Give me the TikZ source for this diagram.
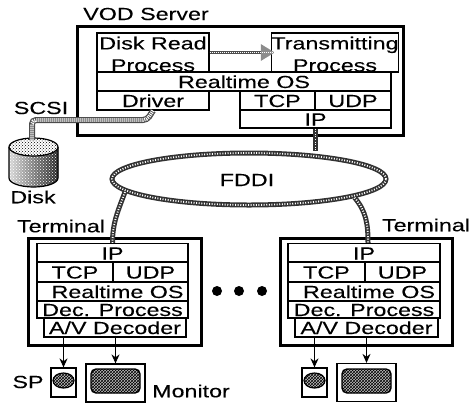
\documentclass[tikz,border=0pt]{standalone}
\usepackage{fontspec}
\setmainfont[FakeStretch=1.33,FakeBold=0.2]{Liberation Sans}
\usetikzlibrary{arrows.meta,patterns,shapes.geometric}
\tikzset{
  layerbox/.style={shape=rectangle,draw,fill=white,line width=1.2pt,inner sep=0pt,text height=13pt,text depth=0pt},
  procbox/.style={shape=rectangle,draw,fill=white,line width=1.2pt,inner sep=0pt,align=center},
  hostbox/.style={shape=rectangle,draw,line width=3pt,inner sep=0pt},
  plainlabel/.style={inner sep=0pt},
  netline/.style={draw=black!80,line width=5pt,postaction={draw=white,line width=1.8pt,dash pattern=on 1pt off 1.6pt,-}},
  scsiline/.style={draw=black!70,line width=6pt,rounded corners=4pt,postaction={draw=white,line width=3.6pt,dash pattern=on 1pt off 1pt}},
  dataline/.style={draw=black!70,line width=3pt,postaction={draw=white,line width=1.4pt,dash pattern=on 1pt off 1pt,-}},
  sigarrow/.style={-{Stealth[length=9pt,width=8pt]},line width=1pt},
  spbox/.style={shape=rectangle,draw,fill=white,line width=1.2pt,minimum width=25pt,minimum height=29pt,inner sep=0pt},
  spcone/.style={shape=ellipse,draw,line width=1.2pt,preaction={fill=black!25},pattern=crosshatch,pattern color=black,minimum width=21pt,minimum height=15pt,inner sep=0pt},
  monbox/.style={shape=rectangle,draw,fill=white,line width=1.2pt,minimum width=59pt,minimum height=38pt,inner sep=0pt},
  monscreen/.style={shape=rectangle,rounded corners=5pt,draw,line width=1.4pt,preaction={fill=black!25},pattern=crosshatch,pattern color=black,minimum width=49pt,minimum height=24pt,inner sep=0pt},
  dotnode/.style={shape=circle,fill=black,minimum size=10pt,inner sep=0pt},
}
\begin{document}
\begin{tikzpicture}[x=1pt,y=-1pt,font=\fontsize{17.5}{22}\selectfont]
    \useasboundingbox (0,0) rectangle (471,405);
    % server
    \node[hostbox,minimum width=326pt,minimum height=109pt] (srvHost) at (240,80.5) {};
    \node[procbox,minimum width=112pt,minimum height=39pt] (srvRead) at (153,52.5) { \rule{0pt}{16pt}Disk Read\\Process };
    \node[procbox,minimum width=112pt,minimum height=39pt] (srvSend) at (335,52.5) { \rule{0pt}{16pt}Transmitting\\Process };
    \node[layerbox,minimum width=294pt,minimum height=19pt] (srvOS) at (244,81.5) { Realtime OS };
    \node[layerbox,minimum width=112pt,minimum height=19pt] (srvDriver) at (153,100.5) { Driver };
    \node[layerbox,minimum width=75pt,minimum height=19pt] (srvTCP) at (277.5,100.5) { TCP };
    \node[layerbox,minimum width=76pt,minimum height=19pt] (srvUDP) at (353,100.5) { UDP };
    \node[layerbox,minimum width=151pt,minimum height=18pt] (srvIP) at (315.5,119) { IP };
    \node[plainlabel] (srvLabel) at (146,14) { VOD Server };
    % disk
    \fill[left color=black!15,right color=black!85] (9,147) -- (9,178) arc[start angle=180,end angle=360,x radius=24.5pt,y radius=9pt] -- (58,147) -- cycle;
    \fill[pattern=crosshatch dots,pattern color=white] (9,147) -- (9,178) arc[start angle=180,end angle=360,x radius=24.5pt,y radius=9pt] -- (58,147) -- cycle;
    \draw[line width=1.2pt] (9,147) -- (9,178) arc[start angle=180,end angle=360,x radius=24.5pt,y radius=9pt] -- (58,147);
    \draw[line width=1.2pt,fill=white,postaction={pattern=crosshatch dots,pattern color=black}] (33.5,147) ellipse[x radius=24.5pt,y radius=9pt];
    \coordinate (diskTop) at (32,140);
    \coordinate (scsiA) at (147,120);
    \coordinate (scsiB) at (32,120);
    \node[plainlabel] (diskLabel) at (33,197) { Disk };
    \node[plainlabel] (scsiLabel) at (41,108) { SCSI };
    % network
    \node[shape=ellipse,netline,minimum width=274pt,minimum height=52pt,inner sep=0pt] (fddi) at (249,179) {};
    \node[plainlabel] (fddiLabel) at (247,180) { FDDI };
    % left terminal
    \node[hostbox,minimum width=173pt,minimum height=107pt] (lHost) at (114.5,291.5) {};
    \node[layerbox,minimum width=151pt,minimum height=19pt] (lIP) at (112.5,253) { IP };
    \node[layerbox,minimum width=76pt,minimum height=20pt] (lTCP) at (75,272) { TCP };
    \node[layerbox,minimum width=75pt,minimum height=20pt] (lUDP) at (150.5,272) { UDP };
    \node[layerbox,minimum width=151pt,minimum height=19pt] (lOS) at (112.5,291.5) { \hspace*{10pt}Realtime OS };
    \node[layerbox,minimum width=151pt,minimum height=17pt] (lDec) at (112.5,309.5) { Dec. Process };
    \node[layerbox,minimum width=142pt,minimum height=19pt] (lAV) at (115,327.5) { A/V Decoder };
    \node[plainlabel] (lLabel) at (61,226) { Terminal };
    % right terminal
    \node[hostbox,minimum width=172pt,minimum height=107pt] (rHost) at (366,291.5) {};
    \node[layerbox,minimum width=152pt,minimum height=19pt] (rIP) at (364,253) { IP };
    \node[layerbox,minimum width=77pt,minimum height=20pt] (rTCP) at (326.5,272) { TCP };
    \node[layerbox,minimum width=75pt,minimum height=20pt] (rUDP) at (402.5,272) { UDP };
    \node[layerbox,minimum width=152pt,minimum height=19pt] (rOS) at (364,291.5) { \hspace*{10pt}Realtime OS };
    \node[layerbox,minimum width=152pt,minimum height=17pt] (rDec) at (364,309.5) { Dec. Process };
    \node[layerbox,minimum width=143pt,minimum height=19pt] (rAV) at (366.5,327.5) { A/V Decoder };
    \node[plainlabel] (rLabel) at (426,225) { Terminal };
    % dots
    \node[dotnode] (dotA) at (217,291) {};
    \node[dotnode] (dotB) at (239,291) {};
    \node[dotnode] (dotC) at (262,291) {};
    % speakers and monitors
    \node[spbox] (lSP) at (63.5,382.5) {};
    \node[spcone] (lCone) at (63.5,380.5) {};
    \node[monbox] (lMon) at (115.5,383) {};
    \node[monscreen] (lScreen) at (115.5,381) {};
    \node[plainlabel] (spLabel) at (28,382) { SP };
    \node[plainlabel] (monLabel) at (191,391) { Monitor };
    \node[spbox] (rSP) at (314.5,382.5) {};
    \node[spcone] (rCone) at (314.5,380.5) {};
    \node[monbox] (rMon) at (366.5,382.5) {};
    \node[monscreen] (rScreen) at (366.5,381) {};
    % connectors
    \draw[scsiline] (srvDriver.south) -- (scsiA) -- (scsiB) -- (diskTop);
    \draw[dataline,shorten >=-4pt,-{Triangle[length=14pt,width=16pt,fill=black!45,color=black!45]}] (srvRead.east) -- (srvSend.west);
    \draw[netline] (srvIP.south) -- (srvIP.south |- fddi.north);
    \draw[netline] (fddi.186) to[out=-110,in=90] (lIP.north);
    \draw[netline] (fddi.-10) to[out=-50,in=90] ([xshift=4pt]rIP.north);
    \draw[sigarrow] (lAV.south -| lSP.north) -- (lSP.north);
    \draw[sigarrow] (lAV.south -| lMon.north) -- (lMon.north);
    \draw[sigarrow] (rAV.south -| rSP.north) -- (rSP.north);
    \draw[sigarrow] (rAV.south -| rMon.north) -- (rMon.north);
\end{tikzpicture}
\end{document}
